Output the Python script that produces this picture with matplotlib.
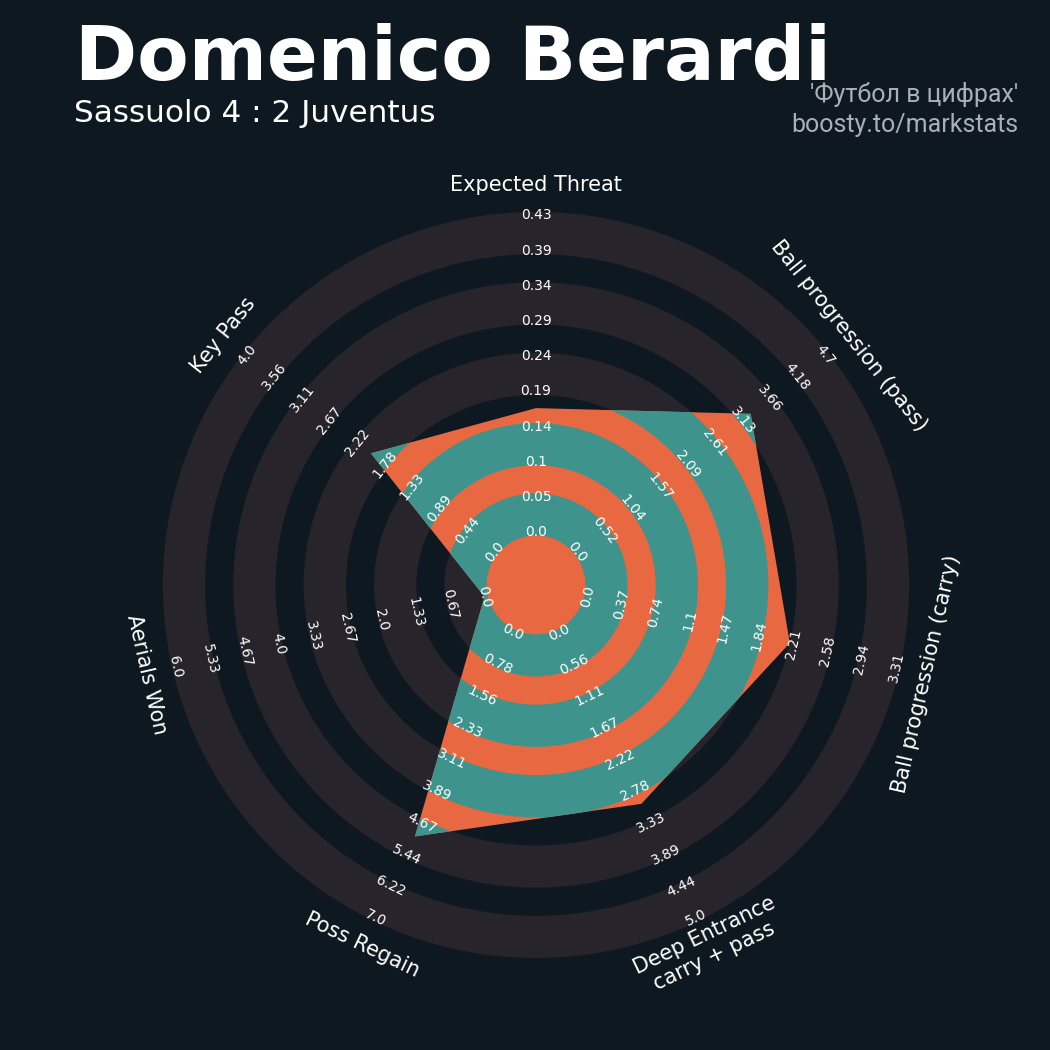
import matplotlib.pyplot as plt
import numpy as np
from matplotlib.patches import Wedge, Polygon, Circle

params = ['Expected Threat', 'Ball progression (pass)', 'Ball progression (carry)',
          'Deep Entrance\ncarry + pass', 'Poss Regain', 'Aerials Won', 'Key Pass']
min_range = [0, 0, 0, 0, 0, 0, 0]
max_range = [0.434, 4.7, 3.312, 5.0, 7.0, 6.0, 4.0]
values = [0.17, 3.29, 2.17, 3.0, 5.0, 0.0, 2.0]

title = 'Domenico Berardi'
subtitle = 'Sassuolo 4 : 2 Juventus'
credit = ["'Футбол в цифрах'", 'boosty.to/markstats']

BG = '#0e1820'
RING = '#28242b'
ORANGE = '#e76841'
TEAL = '#3e948c'

inner, outer = 1.5, 10.5   # radius of min / max value
n_labels = 10
ring_half = 0.6

angles = np.deg2rad(90 - 360 / len(params) * np.arange(len(params)))


def to_radius(v, lo, hi):
    return inner + (v - lo) / (hi - lo) * (outer - inner)


def text_rotation(a):
    rot = (np.rad2deg(a) - 90 + 180) % 360 - 180
    if rot > 90:
        rot -= 180
    elif rot < -90:
        rot += 180
    return rot


fig = plt.figure(figsize=(10.5, 10.5), dpi=100, facecolor=BG)
ax = fig.add_axes([0, 0, 1, 1])
ax.set_facecolor(BG)
u = 35.2
ax.set_xlim(-536 / u, (1050 - 536) / u)
ax.set_ylim(-(1050 - 585) / u, 585 / u)
ax.set_aspect('equal')
ax.axis('off')

ring_centers = np.arange(inner + 0.5, outer, 2.0)
for rc in ring_centers:
    ax.add_patch(Wedge((0, 0), rc + ring_half, 0, 360, width=2 * ring_half,
                       fc=RING, ec='none', zorder=1))

radii = [to_radius(v, lo, hi) for v, lo, hi in zip(values, min_range, max_range)]
verts = np.column_stack([np.array(radii) * np.cos(angles), np.array(radii) * np.sin(angles)])
poly = Polygon(verts, closed=True, fc=ORANGE, ec='none', zorder=2)
ax.add_patch(poly)
for rc in ring_centers:
    w = Wedge((0, 0), rc + ring_half, 0, 360, width=2 * ring_half,
              fc=TEAL, ec='none', zorder=3)
    ax.add_patch(w)
    w.set_clip_path(poly)
ax.add_patch(Circle((0, 0), inner - 0.1, fc=ORANGE, ec='none', zorder=3))

# range labels
for a, lo, hi in zip(angles, min_range, max_range):
    rot = text_rotation(a)
    for j in range(n_labels):
        r = inner + j * (outer - inner) / (n_labels - 1)
        val = round(float(lo + j * (hi - lo) / (n_labels - 1)), 2)
        ax.text(r * np.cos(a), r * np.sin(a), str(val), color='white', fontsize=10,
                rotation=rot, rotation_mode='anchor', ha='center', va='center', zorder=5)

# param labels
for a, p in zip(angles, params):
    r = 400 / u
    ax.text(r * np.cos(a), r * np.sin(a), p, color='white', fontsize=15,
            rotation=text_rotation(a), rotation_mode='anchor', ha='center', va='center',
            zorder=5)

fig.text(75 / 1050, 1 - 80 / 1050, title, color='white', fontsize=54, fontweight='bold',
         va='baseline', ha='left')
fig.text(74 / 1050, 1 - 122 / 1050, subtitle, color='white', fontsize=22.4,
         va='baseline', ha='left')
fig.text(1018 / 1050, 1 - 102 / 1050, credit[0], color='#aab0b5', fontsize=18,
         family='Roboto', va='baseline', ha='right')
fig.text(1018 / 1050, 1 - 132 / 1050, credit[1], color='#aab0b5', fontsize=18,
         family='Roboto', va='baseline', ha='right')

fig.savefig('out.png', dpi=100, facecolor=BG)
